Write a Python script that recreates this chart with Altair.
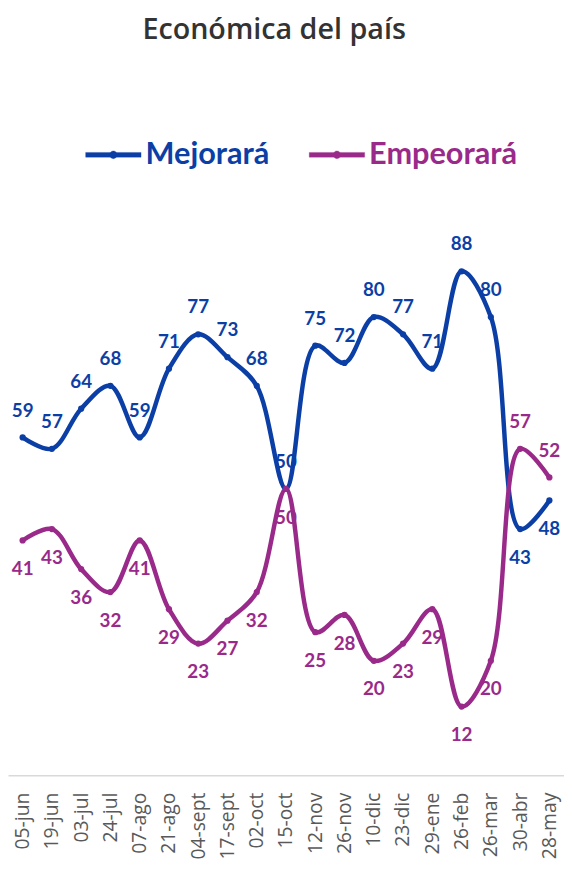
import altair as alt
import pandas as pd

fechas = ["05-jun", "19-jun", "03-jul", "24-jul", "07-ago", "21-ago", "04-sept",
          "17-sept", "02-oct", "15-oct", "12-nov", "26-nov", "10-dic", "23-dic",
          "29-ene", "26-feb", "26-mar", "30-abr", "28-may"]
mejorara = [59, 57, 64, 68, 59, 71, 77, 73, 68, 50, 75, 72, 80, 77, 71, 88, 80, 43, 48]
empeorara = [41, 43, 36, 32, 41, 29, 23, 27, 32, 50, 25, 28, 20, 23, 29, 12, 20, 57, 52]
# where each value label sits relative to its point
pos_mej = ["arriba"] * 17 + ["abajo"] * 2
pos_emp = ["abajo"] * 17 + ["arriba"] * 2

series = ["Mejorará", "Empeorará"]
colores = ["#0B3FA6", "#9A2A8A"]

rows = []
for i, f in enumerate(fechas):
    rows.append({"fecha": f, "serie": "Mejorará", "valor": mejorara[i], "pos": pos_mej[i], "orden": 0})
for i, f in enumerate(fechas):
    rows.append({"fecha": f, "serie": "Empeorará", "valor": empeorara[i], "pos": pos_emp[i], "orden": 1})
df = pd.DataFrame(rows)

legend_symbol = ("M-1,-0.085L1,-0.085L1,0.085L-1,0.085Z"
                 "M0.14,0A0.14,0.14,0,1,1,-0.14,0A0.14,0.14,0,1,1,0.14,0Z")

color = alt.Color(
    "serie:N",
    scale=alt.Scale(domain=series, range=colores),
    legend=alt.Legend(
        title=None,
        orient="none",
        direction="horizontal",
        legendX=78,
        legendY=-77,
        symbolType=legend_symbol,
        symbolSize=3136,
        symbolStrokeWidth=0.3,
        labelFont="Lato",
        labelFontSize=31,
        labelFontWeight="bold",
        labelColor={"expr": "datum.value == 'Mejorará' ? '#0B3FA6' : '#9A2A8A'"},
        labelOffset=4,
        columnPadding=38,
        labelLimit=300,
    ),
)

x = alt.X(
    "fecha:N",
    sort=fechas,
    scale=alt.Scale(type="point", padding=0.5),
    axis=alt.Axis(
        title=None,
        labelAngle=-90,
        labelFont="Open Sans",
        labelFontSize=19.5,
        labelColor="#595959",
        labelPadding=17,
        ticks=False,
        domainColor="#d9d9d9",
        domainWidth=1.5,
        grid=False,
    ),
)
y = alt.Y("valor:Q", scale=alt.Scale(domain=[0, 100]), axis=None)

base = alt.Chart(df)

line = base.mark_line(interpolate="catmull-rom", strokeWidth=4.5, strokeCap="round").encode(
    x=x, y=y, color=color, order=alt.Order("orden:Q")
)
points = base.mark_point(filled=True, size=40, opacity=1).encode(
    x=x, y=y, color=alt.Color("serie:N", scale=alt.Scale(domain=series, range=colores), legend=None)
)

txt_color = alt.Color("serie:N", scale=alt.Scale(domain=series, range=colores), legend=None)
arriba = base.transform_filter(alt.datum.pos == "arriba").mark_text(
    font="Lato", fontSize=19, fontWeight="bold", dy=-27, baseline="middle"
).encode(x=x, y=y, text="valor:Q", color=txt_color)
abajo = base.transform_filter(alt.datum.pos == "abajo").mark_text(
    font="Lato", fontSize=19, fontWeight="bold", dy=29, baseline="middle"
).encode(x=x, y=y, text="valor:Q", color=txt_color)

chart = alt.layer(line, points, arriba, abajo).properties(
    width=562,
    height=579,
    title=alt.TitleParams(
        "Económica del país",
        font="Open Sans",
        fontSize=29,
        fontWeight=600,
        color="#333333",
        anchor="middle",
        offset=82,
        dx=-12,
        limit=0,
    ),
    autosize=alt.AutoSizeParams(type="pad"),
    padding={"left": 0, "top": 4, "right": 0, "bottom": 0},
).configure_view(stroke=None)

chart.save("out.html", embed_options={"renderer": "svg", "actions": False})
